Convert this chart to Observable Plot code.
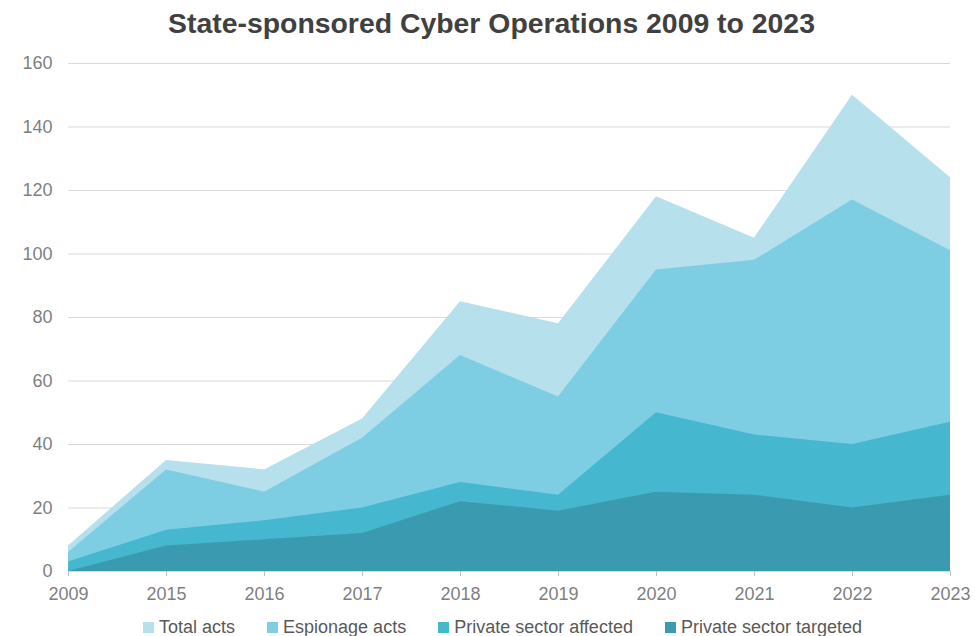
<!DOCTYPE html>
<html>
<head>
<meta charset="utf-8">
<script src="https://cdn.jsdelivr.net/npm/d3@7"></script>
<script src="https://cdn.jsdelivr.net/npm/@observablehq/plot@0.6"></script>
<style>
  html, body { margin: 0; padding: 0; background: #fff; }
  body { width: 975px; height: 636px; overflow: hidden; font-family: "Liberation Sans", Arial, sans-serif; }
  #title { height: 44px; line-height: 46px; text-align: center; font-weight: bold; font-size: 28.4px; color: #404040; padding-left: 8px; }
  #legend { display: flex; justify-content: center; gap: 32px; font-size: 18px; color: #595959; height: 22px; line-height: 22px; margin-top: 2px; padding-left: 30px; }
  #legend .item { display: flex; align-items: center; gap: 5px; }
  #legend .sw { width: 11px; height: 11px; display: inline-block; }
</style>
</head>
<body>
<div id="title">State-sponsored Cyber Operations 2009 to 2023</div>
<div id="chart"></div>
<div id="legend"></div>
<script>
const years = ["2009", "2015", "2016", "2017", "2018", "2019", "2020", "2021", "2022", "2023"];
const seriesNames = ["Total acts", "Espionage acts", "Private sector affected", "Private sector targeted"];
const colors = ["#b5e0ec", "#7dcee2", "#45b7cf", "#3a9bb0"];
const totalActs = [8, 35, 32, 48, 85, 78, 118, 105, 150, 124];
const espionageActs = [6, 32, 25, 42, 68, 55, 95, 98, 117, 101];
const privateAffected = [3, 13, 16, 20, 28, 24, 50, 43, 40, 47];
const privateTargeted = [0, 8, 10, 12, 22, 19, 25, 24, 20, 24];
const yTicks = [0, 20, 40, 60, 80, 100, 120, 140, 160];

const seriesValues = [totalActs, espionageActs, privateAffected, privateTargeted];
const data = [];
seriesNames.forEach((name, i) => {
  years.forEach((yr, j) => data.push({series: name, year: yr, value: seriesValues[i][j]}));
});

const chart = Plot.plot({
  width: 975,
  height: 570,
  marginLeft: 68,
  marginRight: 25,
  marginTop: 19,
  marginBottom: 43,
  style: { fontFamily: "Liberation Sans, Arial, sans-serif", fontSize: "18px", color: "#7f7f7f", background: "#fff" },
  x: { type: "point", domain: years, padding: 0, label: null },
  y: { domain: [0, 160], label: null },
  color: { domain: seriesNames, range: colors },
  marks: [
    Plot.gridY(yTicks, { stroke: "#d9d9d9", strokeOpacity: 1, strokeWidth: 1 }),
    Plot.areaY(data, { x: "year", y1: 0, y2: "value", z: "series", fill: "series", fillOpacity: 1, curve: "linear" }),
    Plot.ruleY([0], { stroke: "#d9d9d9" }),
    Plot.axisY(yTicks, { tickSize: 0, tickPadding: 16, fill: "#7f7f7f", fontSize: 18 }),
    Plot.axisX(years, { tickSize: 5, tickPadding: 11, stroke: "#bfbfbf", fill: "#7f7f7f", fontSize: 18 })
  ]
});
document.getElementById("chart").appendChild(chart);

const legend = document.getElementById("legend");
seriesNames.forEach((name, i) => {
  const item = document.createElement("div");
  item.className = "item";
  const sw = document.createElement("span");
  sw.className = "sw";
  sw.style.background = colors[i];
  const t = document.createElement("span");
  t.textContent = name;
  item.appendChild(sw);
  item.appendChild(t);
  legend.appendChild(item);
});
</script>
</body>
</html>
